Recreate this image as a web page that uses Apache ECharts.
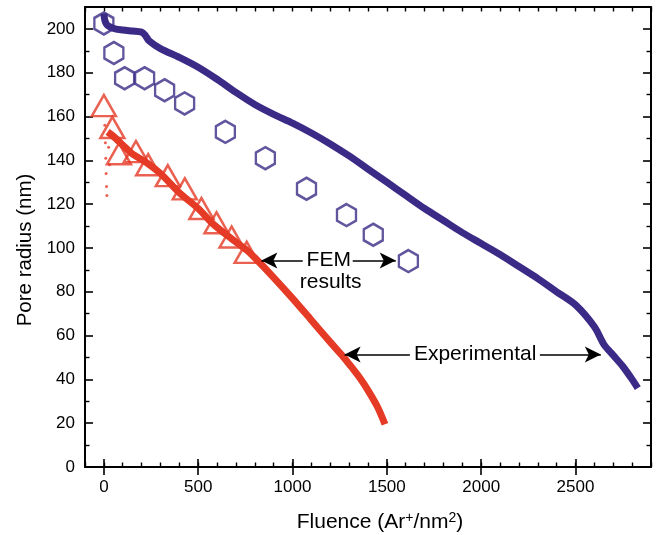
<!DOCTYPE html>
<html><head><meta charset="utf-8">
<script src="https://cdn.jsdelivr.net/npm/echarts@6/dist/echarts.min.js"></script>
<style>html,body{margin:0;padding:0;background:#fff}#c{width:662px;height:535px}</style>
</head><body><div id="c"></div>
<script>
// Experimental (blue) : [fluence, radius]
var blueExp = [[0,207],[5,204],[15,202],[30,201],[60,200],[100,199.5],[150,199],[200,198.5],[220,197],[240,194.5],[300,191],[400,187],[500,182.5],[600,177],[700,171],[800,165.5],[900,161],[1000,157],[1100,152.5],[1200,147.5],[1300,142],[1400,136],[1500,130],[1600,124],[1700,118],[1800,112.5],[1900,107],[2000,102],[2100,97],[2200,91.5],[2300,86],[2400,80],[2500,74],[2600,64],[2650,56],[2700,51],[2750,46],[2800,40],[2830,36]];
// Experimental (red)
var redExp = [[20,153],[50,151],[100,147],[150,143],[226,139],[300,134],[403,125],[500,118],[578,111],[680,104],[757,99],[800,95.5],[900,86.5],[1000,77],[1100,67],[1200,57],[1267,50.5],[1300,47],[1358,40.5],[1400,35],[1450,27.5],[1490,19.5]];
var redScatter = [[5,156],[8,148],[10,141],[12,134],[14,128],[16,124],[25,146],[30,138]];
// FEM results
var hexFEM = [[0,202.5],[53,189],[110,177.5],[216,177.5],[322,172],[428,166],[644,153],[856,141],[1074,127],[1286,115],[1428,106],[1614,94]];
var triFEM = [[0,165],[45,155],[80,143],[170,144],[235,138],[339,133],[429,127],[517,118],[597,111.5],[677,105],[757,98]];
// Axis ticks
var xMin = -100, xMax = 2900, xMinorStep = 100;
var xMajorTicks = [0,500,1000,1500,2000,2500];
var yMin = 0, yMax = 210, yStep = 20;

var BLUE = '#3b2a86', RED = '#e53a25';
var FONT = 'Liberation Sans, Arial, sans-serif';
var chart = echarts.init(document.getElementById('c'));
var axisLine = {show:true, onZero:false, lineStyle:{color:'#000', width:2}};
var majorTick = {show:true, inside:true, length:8, lineStyle:{color:'#000', width:1.6}};
var shortTick = {show:true, inside:true, length:4.5, lineStyle:{color:'#000', width:1.4}};
var yMinor = {show:true, splitNumber:2, length:4.5, lineStyle:{color:'#000', width:1.4}};
function xLabel(v){ return (v % 500 === 0 && v >= 0) ? String(v) : ''; }
function yLabel(v){ return (v % 20 === 0) ? String(v) : ''; }
function xAx(pos, main){
  return {
    type:'value', min:xMin, max:xMax, interval:xMinorStep, position:pos,
    axisLine:axisLine, axisTick:shortTick, splitLine:{show:false},
    axisLabel: main ? {show:true, color:'#000', fontSize:17, fontFamily:FONT, margin:12, formatter:xLabel, hideOverlap:false} : {show:false}
  };
}
function xMajor(pos){
  return {
    type:'value', min:xMin, max:xMax, position:pos,
    axisLine:{show:false}, splitLine:{show:false},
    axisTick:{show:true, inside:true, length:8, lineStyle:{color:'#000', width:1.6}, customValues:xMajorTicks},
    axisLabel:{show:false, customValues:xMajorTicks}
  };
}
var xMain = xAx('bottom', true);
xMain.name = '{a|Fluence (Ar}{s|+}{a|/nm}{s|2}{a|)}';
xMain.nameLocation = 'middle';
xMain.nameGap = 44;
xMain.nameTextStyle = {padding:[0,0,0,24], rich:{a:{fontSize:21, fontFamily:FONT, color:'#000'}, s:{fontSize:14, fontFamily:FONT, color:'#000', verticalAlign:'top', padding:[0,0,8,0]}}};

chart.setOption({
  animation:false,
  grid:{left:85, right:11, top:7, bottom:68, containLabel:false, outerBoundsMode:'none'},
  xAxis:[xMain, xAx('top', false), xMajor('bottom'), xMajor('top')],
  yAxis:[{
    type:'value', min:yMin, max:yMax, interval:yStep,
    axisLine:axisLine, axisTick:majorTick, minorTick:yMinor,
    axisLabel:{color:'#000', fontSize:17, fontFamily:FONT, margin:10, formatter:yLabel},
    splitLine:{show:false}, minorSplitLine:{show:false},
    name:'Pore radius (nm)', nameLocation:'middle', nameGap:47,
    nameTextStyle:{fontSize:20.5, fontFamily:FONT, color:'#000', padding:[0,26,0,0]}
  },{
    type:'value', min:yMin, max:yMax, interval:yStep, position:'right',
    axisLine:axisLine, axisTick:majorTick, minorTick:yMinor,
    axisLabel:{show:false}, splitLine:{show:false}, minorSplitLine:{show:false}
  }],
  series:[
    {type:'scatter', data:triFEM, symbol:'triangle', symbolSize:[24,21],
     itemStyle:{color:'rgba(0,0,0,0)', borderColor:RED, borderWidth:2.5}, z:3},
    {type:'line', data:redExp, showSymbol:false, symbol:'none', smooth:0.3,
     lineStyle:{color:RED, width:7}, z:4},
    {type:'scatter', data:redScatter, symbolSize:3, itemStyle:{color:RED}, z:4},
    {type:'line', data:blueExp, showSymbol:false, symbol:'none', smooth:0.3,
     lineStyle:{color:BLUE, width:7}, z:4},
    {type:'scatter', data:hexFEM, symbol:'path://M0,-1 L0.866,-0.5 L0.866,0.5 L0,1 L-0.866,0.5 L-0.866,-0.5 Z',
     symbolSize:[19,22], symbolKeepAspect:false,
     itemStyle:{color:'rgba(0,0,0,0)', borderColor:BLUE, borderWidth:2.5}, z:3},
    {type:'scatter', data:[], z:5,
     markLine:{silent:true, symbol:['none','arrow'], symbolSize:[12,16],
       lineStyle:{color:'#000', width:1.6, type:'solid'}, label:{show:false},
       data:[
         [{coord:[1054,94.3]},{coord:[835,94.3]}],
         [{coord:[1319,94.3]},{coord:[1547,94.3]}],
         [{coord:[1622,51.4]},{coord:[1276,51.4]}],
         [{coord:[2311,51.4]},{coord:[2634,51.4]}]
       ]},
     markPoint:{silent:true, symbol:'circle', symbolSize:0,
       label:{show:true, color:'#000', fontSize:21, fontFamily:FONT, position:'inside', formatter:'{b}'},
       data:[
         {name:'FEM', coord:[1192,94.3]},
         {name:'results', coord:[1202,84.4]},
         {name:'Experimental', coord:[1968,51.4]}
       ]}
    }
  ]
});
</script></body></html>
